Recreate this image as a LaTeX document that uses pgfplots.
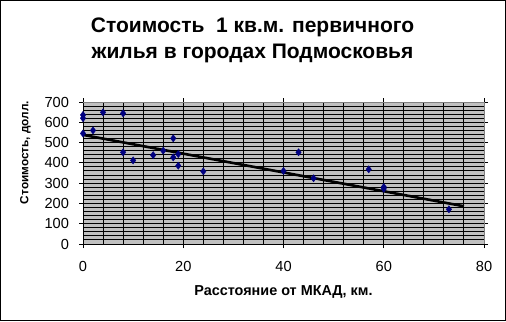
\documentclass[border=0pt]{standalone}
\usepackage{pgfplots}
\pgfplotsset{compat=1.18}
\usepackage{fontspec}
\setmainfont{Liberation Sans}
\definecolor{plotgray}{RGB}{192,192,192}
\definecolor{bordergray}{RGB}{128,128,128}
\definecolor{navy}{RGB}{0,0,128}
\begin{document}
\begin{tikzpicture}[x=1bp,y=1bp]
\draw[line width=1bp,black] (0.5,0.5) rectangle (505.5,320.5);
\begin{axis}[
  at={(83bp,77bp)}, anchor=south west,
  scale only axis, width=401bp, height=142bp,
  xmin=0, xmax=80, ymin=0, ymax=700,
  xtick={0,20,40,60,80}, ytick={0,100,...,700},
  minor x tick num=4, minor y tick num=4,
  grid=both,
  major grid style={black, line width=1bp},
  minor grid style={black, line width=1bp},
  minor tick length=0pt,
  tick align=center, major tick length=8bp,
  tick style={black, line width=1bp},
  axis line style={black, line width=1bp},
  axis background/.style={fill=plotgray},
  /pgf/number format/assume math mode=true,
  ticklabel style={font=\fontsize{14.6bp}{16bp}\selectfont},
  xticklabel style={yshift=-10bp},
  yticklabel style={xshift=-6.5bp},
  clip=false,
  every axis title/.style={at={(axis description cs:0.4227,1)}, anchor=south,
    align=center, yshift=36bp,
    font=\fontsize{21bp}{25.6bp}\selectfont\bfseries},
  title={Стоимость~ 1 кв.м. первичного\\жилья в городах Подмосковья},
  every axis x label/.style={at={(axis description cs:0.5,-0.3613)}, anchor=base,
    font=\fontsize{14.4bp}{16bp}\selectfont\bfseries},
  xlabel={Расстояние от МКАД, км.},
  every axis y label/.style={at={(axis description cs:-0.1434,0.644)}, anchor=center,
    rotate=90, font=\fontsize{11.8bp}{14bp}\selectfont\bfseries},
  ylabel={Стоимость, долл.},
]
\addplot[only marks, mark=diamond*, mark size=3.6bp, color=navy] coordinates {
(0,636) (0,620) (0,545) (2,560) (4,649) (8,644) (8,452) (10,412) (14,438)
(16,460) (18,521) (18,427) (19,443) (19,386) (24,358) (40,360) (43,452)
(46,324) (57,368) (60,281) (60,272) (73,171)
};
\addplot[black, line width=2.6bp] coordinates {(0,538) (76,186)};
\draw[bordergray, line width=1bp] (rel axis cs:0,1) -- (rel axis cs:1,1) -- (rel axis cs:1,0);
\end{axis}
\end{tikzpicture}
\end{document}
